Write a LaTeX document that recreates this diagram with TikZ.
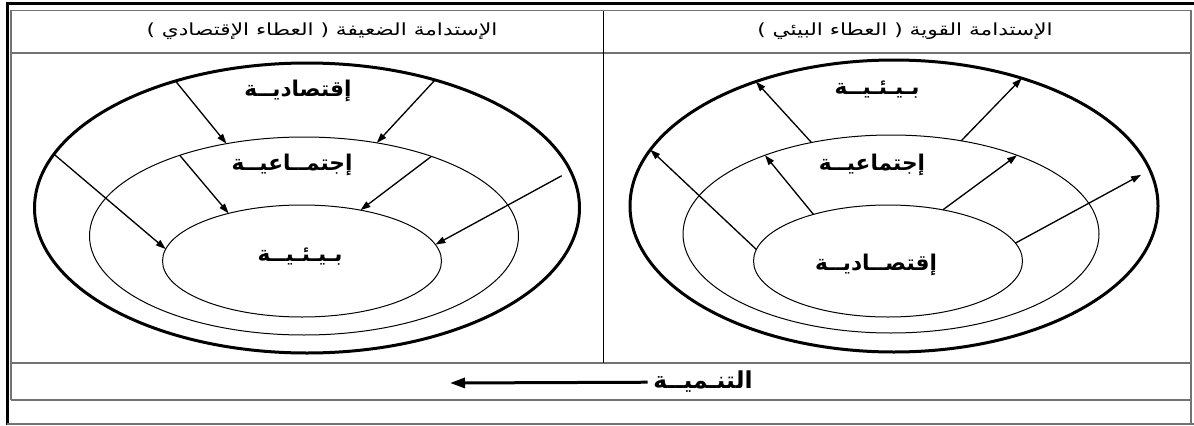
\documentclass[tikz,border=0pt]{standalone}
\usepackage{fontspec}
\usepackage{tikz}
\usetikzlibrary{arrows.meta,shapes.geometric}
\newfontfamily\arabicfont[Script=Arabic]{DejaVu Sans}
\newfontfamily\headfont[Script=Arabic,FakeStretch=1.3]{DejaVu Sans}
\TeXXeTstate=1
\newcommand{\artext}[1]{\beginR #1\endR}

\begin{document}
\begin{tikzpicture}[x=0.6pt,y=-0.6pt,
  ring/.style={ellipse,draw,inner sep=0pt,outer sep=0pt},
  thickring/.style={ring,line width=1.8pt},
  thinring/.style={ring,line width=0.6pt},
  flow/.style={line width=0.8pt,-{Triangle[length=6pt,width=4pt]}},
  word/.style={font=\arabicfont\bfseries\fontsize{13}{15}\selectfont},
  headword/.style={font=\headfont\fontsize{10}{12}\selectfont},
  cellline/.style={black!55,line width=0.9pt}]

  \useasboundingbox (0,0) rectangle (1194,425);

  % table frame
  \draw[line width=1.8pt] (7,425) -- (7,3) -- (1194,3);
  \draw[cellline] (11,400) -- (11,10.5) -- (1191,10.5) -- (1191,424);
  \foreach \y in {53,363,400}
    \draw[cellline] (11,\y) -- (1191,\y);
  \draw[cellline] (7,424) -- (1194,424);
  \draw[line width=0.6pt] (603,10.5) -- (603,363);

  % headers
  \node[headword] (hweak) at (322,31)
    {\artext{الإستدامة الضعيفة ( العطاء الإقتصادي )}};
  \node[headword] (hstrong) at (905,31)
    {\artext{الإستدامة القوية ( العطاء البيئي )}};

  % weak sustainability
  \node[thickring,minimum width=327pt,minimum height=174pt] (oL) at (307,208) {};
  \node[thinring,minimum width=257.4pt,minimum height=118.8pt] (mL) at (304,236) {};
  \node[thinring,minimum width=167.4pt,minimum height=67.2pt] (iL) at (302,261) {};
  \node[word] (ecoL) at (298,91) {\artext{إقتصاديــة}};
  \node[word] (socL) at (292,165) {\artext{إجتمــاعيــة}};
  \node[word] (envL) at (300,257) {\artext{بـيـئـيــة}};

  \foreach \a/\b in {136.9/130,45.6/52.1}
    \draw[flow] (oL.\a) -- (mL.\b);
  \foreach \a/\b in {147.8/147.2,32.7/41.8}
    \draw[flow] (mL.\a) -- (iL.\b);
  \draw[flow] (oL.168.1) -- (iL.175.6);
  \draw[flow,shorten <=6pt] (oL.8) -- (iL.7.6);

  % strong sustainability
  \node[thickring,minimum width=316.8pt,minimum height=175.2pt] (oR) at (894,206) {};
  \node[thinring,minimum width=249.6pt,minimum height=118.8pt] (mR) at (891,234) {};
  \node[thinring,minimum width=161.4pt,minimum height=67.2pt] (iR) at (888,261) {};
  \node[word] (envR) at (877,90) {\artext{بـيـئـيــة}};
  \node[word] (socR) at (872,165) {\artext{إجتماعيــة}};
  \node[word] (ecoR) at (876,265) {\artext{إقتصــاديــة}};

  \foreach \a/\b in {131.8/138.6,53/45.7}
    \draw[flow] (mR.\a) -- (oR.\b);
  \foreach \a/\b in {148/148.9,43.3/32.5}
    \draw[flow] (iR.\a) -- (mR.\b);
  \draw[flow] (iR.175.4) -- (oR.167.7);
  \draw[flow,shorten >=6pt] (iR.8.3) -- (oR.8.1);

  % development
  \node[word,font=\arabicfont\bfseries\fontsize{14}{16}\selectfont] (dev) at (703,382)
    {\artext{التنـميــة}};
  \coordinate (devend) at (450,383);
  \draw[line width=1.8pt,-{Triangle[length=9pt,width=6pt]}] (dev) -- (devend);
\end{tikzpicture}
\end{document}
